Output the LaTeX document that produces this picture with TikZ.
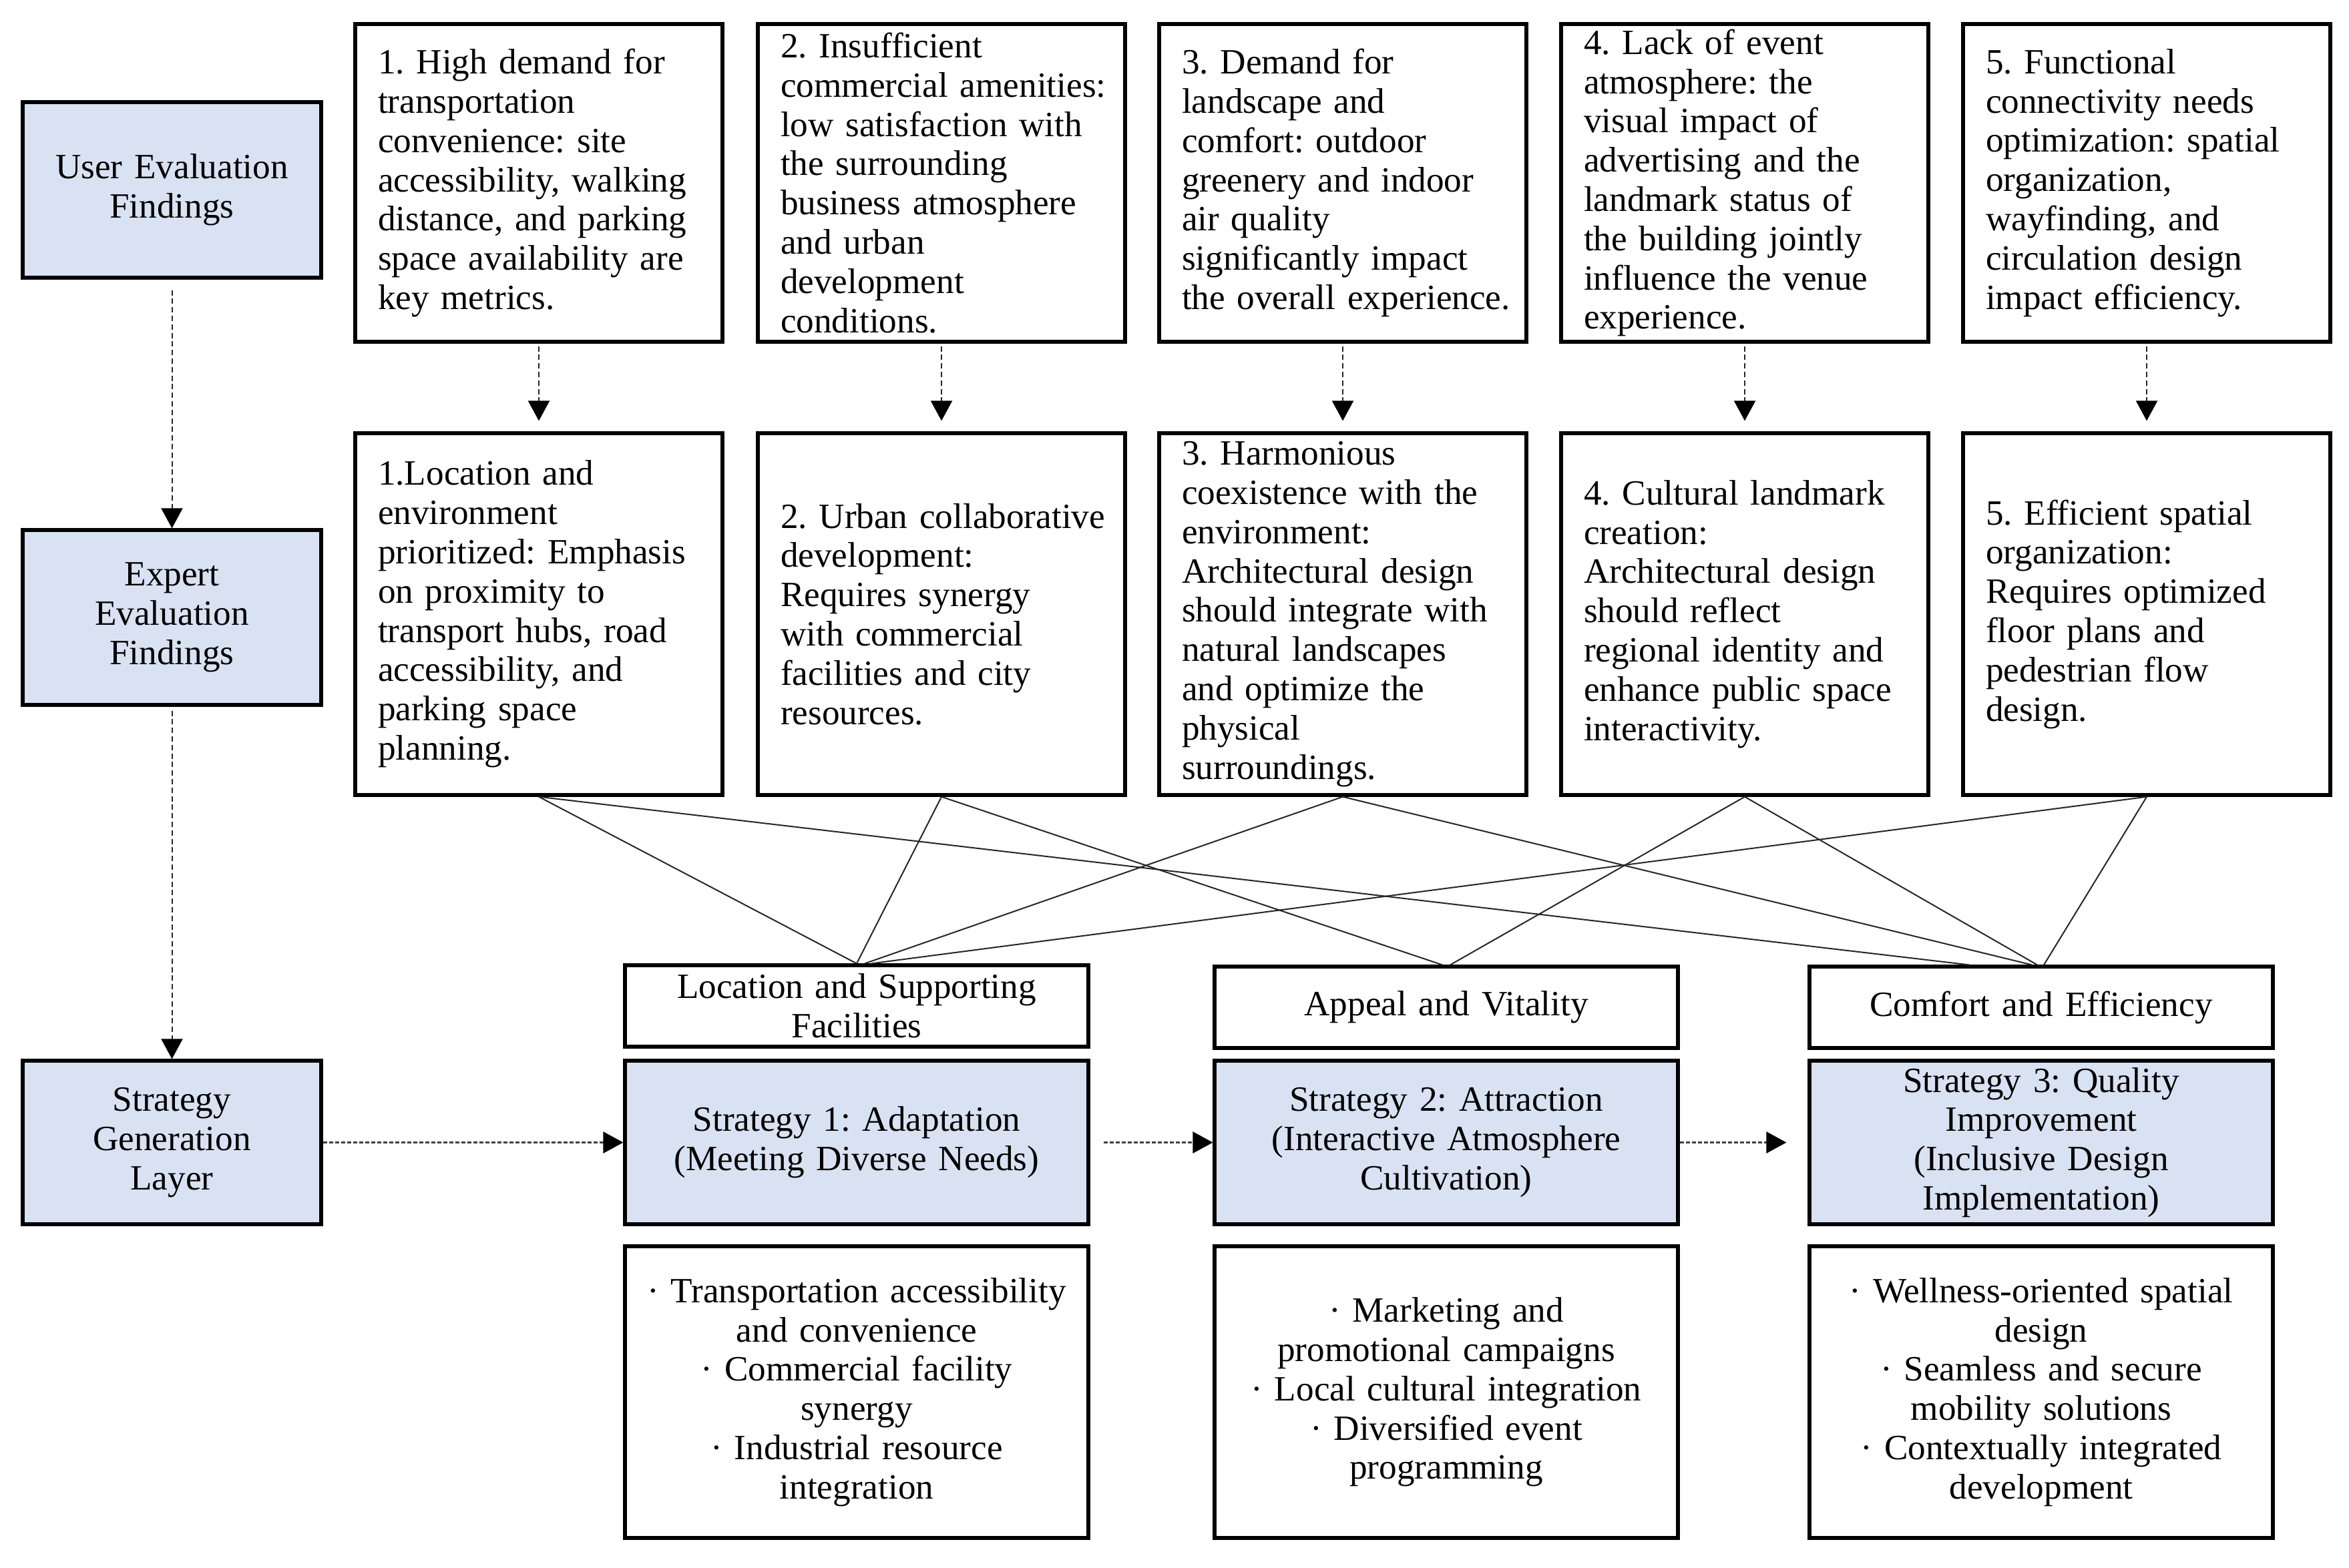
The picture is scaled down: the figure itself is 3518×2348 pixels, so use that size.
\documentclass[tikz,border=0pt]{standalone}
\usepackage{fontspec}
\setmainfont{Liberation Serif}
\frenchspacing
\usetikzlibrary{arrows.meta,calc}
\definecolor{boxblue}{HTML}{D9E2F3}
\begin{document}
\begin{tikzpicture}[x=0.25pt,y=-0.25pt,
  every node/.style={font=\fontsize{13.3}{14.7}\selectfont},
  base/.style={draw=black,line width=1.3pt,inner sep=0pt},
  leftbox/.style={base,fill=boxblue,minimum width=111.75pt,minimum height=#1,text width=108pt,align=center,
    execute at begin node={\hyphenpenalty=10000\relax}},
  finding/.style={base,minimum width=137.5pt,minimum height=#1,text width=137.5pt,inner xsep=0pt,align=left,
    execute at begin node={\leftskip=8.5pt\hyphenpenalty=10000\relax}},
  catbox/.style={base,minimum width=173.5pt,minimum height=30.5pt,text width=171pt,align=center,
    execute at begin node={\hyphenpenalty=10000\relax}},
  stratbox/.style={catbox,fill=boxblue,minimum height=61.25pt},
  outbox/.style={catbox,minimum height=109.25pt},
  link/.style={draw=black!85,line width=0.5pt},
  tip/.style={-{Triangle[length=7.5pt,width=8pt,color=black]}},
  vdash/.style={tip,draw=black!85,line width=0.5pt,dash pattern=on 2pt off 1.2pt},
  hdot/.style={tip,draw=black!75,line width=0.7pt,dash pattern=on 1.5pt off 0.75pt}
]
\useasboundingbox[fill=white] (0,0) rectangle (3518,2348);

% left column
\node[leftbox=65.75pt] (user) at (257.5,284.5) {User Evaluation\\Findings};
\node[leftbox=65.5pt] (expert) at (257.5,925) {Expert\\Evaluation\\Findings};
\node[leftbox=61.25pt] (layer) at (257.5,1711.5) {Strategy\\Generation\\Layer};

% top row
\node[finding=119pt] (t1) at (807,274) {1. High demand for\\transportation\\convenience: site\\accessibility, walking\\distance, and parking\\space availability are\\key metrics.};
\node[finding=119pt] (t2) at (1410,274) {2. Insufficient\\commercial amenities:\\low satisfaction with\\the surrounding\\business atmosphere\\and urban\\development\\conditions.};
\node[finding=119pt] (t3) at (2011,274) {3. Demand for\\landscape and\\comfort: outdoor\\greenery and indoor\\air quality\\significantly impact\\the overall experience.};
\node[finding=119pt] (t4) at (2613,274) {4. Lack of event\\atmosphere: the\\visual impact of\\advertising and the\\landmark status of\\the building jointly\\influence the venue\\experience.};
\node[finding=119pt] (t5) at (3215,274) {5. Functional\\connectivity needs\\optimization: spatial\\organization,\\wayfinding, and\\circulation design\\impact efficiency.};

% middle row
\node[finding=135.5pt] (m1) at (807,920) {1.Location and\\environment\\prioritized: Emphasis\\on proximity to\\transport hubs, road\\accessibility, and\\parking space\\planning.};
\node[finding=135.5pt] (m2) at (1410,920) {2. Urban collaborative\\development:\\Requires synergy\\with commercial\\facilities and city\\resources.};
\node[finding=135.5pt] (m3) at (2011,920) {3. Harmonious\\coexistence with the\\environment:\\Architectural design\\should integrate with\\natural landscapes\\and optimize the\\physical\\surroundings.};
\node[finding=135.5pt] (m4) at (2613,920) {4. Cultural landmark\\creation:\\Architectural design\\should reflect\\regional identity and\\enhance public space\\interactivity.};
\node[finding=135.5pt] (m5) at (3215,920) {5. Efficient spatial\\organization:\\Requires optimized\\floor plans and\\pedestrian flow\\design.};

% categories
\node[catbox] (c1) at (1283,1507) {Location and Supporting\\Facilities};
\node[catbox] (c2) at (2166,1509) {Appeal and Vitality};
\node[catbox] (c3) at (3057,1509) {Comfort and Efficiency};

% strategies
\node[stratbox] (s1) at (1283,1711.5) {Strategy 1: Adaptation\\(Meeting Diverse Needs)};
\node[stratbox] (s2) at (2166,1711.5) {Strategy 2: Attraction\\(Interactive Atmosphere\\Cultivation)};
\node[stratbox] (s3) at (3057,1711.5) {Strategy 3: Quality\\Improvement\\(Inclusive Design\\Implementation)};

% outputs
\node[outbox] (o1) at (1283,2085.5) {\textperiodcentered\ Transportation accessibility\\and convenience\\\textperiodcentered\ Commercial facility\\synergy\\\textperiodcentered\ Industrial resource\\integration};
\node[outbox] (o2) at (2166,2085.5) {\textperiodcentered\ Marketing and\\promotional campaigns\\\textperiodcentered\ Local cultural integration\\\textperiodcentered\ Diversified event\\programming};
\node[outbox] (o3) at (3057,2085.5) {\textperiodcentered\ Wellness-oriented spatial\\design\\\textperiodcentered\ Seamless and secure\\mobility solutions\\\textperiodcentered\ Contextually integrated\\development};

% vertical dashed arrows
\foreach \i in {1,...,5}{
  \draw[vdash,shorten <=1pt,shorten >=4pt] (t\i.south) -- (m\i.north);
}
\draw[vdash,shorten <=4pt] (user.south) -- (expert.north);
\draw[vdash,shorten <=1.5pt] (expert.south) -- (layer.north);

% horizontal dotted arrows
\draw[hdot] (layer.east) -- (s1.west);
\draw[hdot,shorten <=5pt] (s1.east) -- (s2.west);
\draw[hdot,shorten >=8pt] (s2.east) -- (s3.west);

% crossing links
\draw[link] (m1.south) -- (c1.north);
\draw[link] (m1.south) -- ($(c3.north)+(-108,0)$);
\draw[link] (m2.south) -- (c1.north);
\draw[link] (m2.south) -- ($(c2.north)+(-6,0)$);
\draw[link] (m3.south) -- ($(c1.north)+(12,0)$);
\draw[link] (m3.south) -- ($(c3.north)+(-14,0)$);
\draw[link] (m4.south) -- ($(c2.north)+(6,0)$);
\draw[link] (m4.south) -- ($(c3.north)+(-6,0)$);
\draw[link] (m5.south) -- ($(c1.north)+(22,0)$);
\draw[link] (m5.south) -- ($(c3.north)+(4,0)$);
\end{tikzpicture}
\end{document}
